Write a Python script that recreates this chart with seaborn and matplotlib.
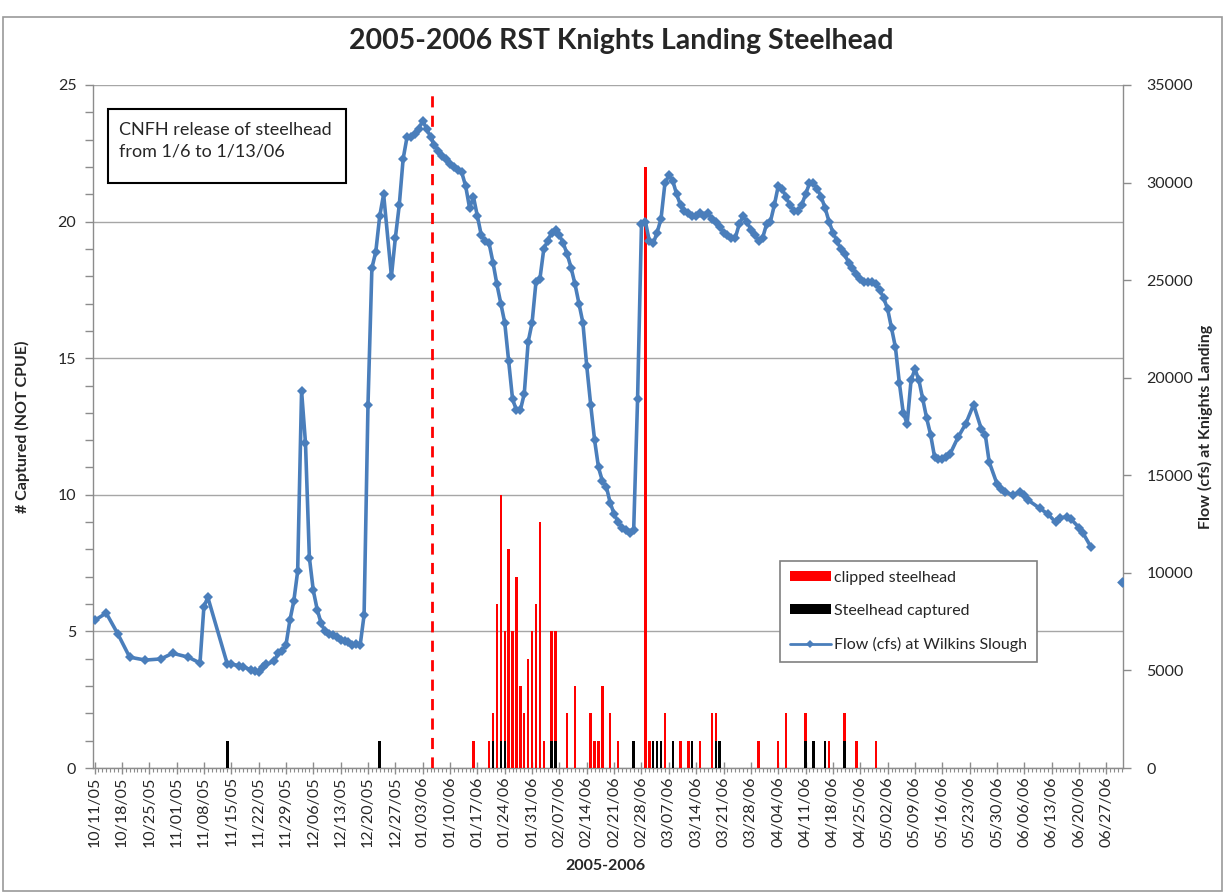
import numpy as np
import pandas as pd
import matplotlib
matplotlib.use("Agg")
import matplotlib.pyplot as plt
import seaborn as sns
from matplotlib.patches import Patch, Rectangle
from matplotlib.lines import Line2D
from matplotlib.ticker import MultipleLocator, FuncFormatter

# ---------------- data ----------------
season_start = pd.Timestamp("2005-10-11")   # day 0

# Flow (cfs) at Wilkins Slough, by day offset from season_start
flow_day = [0, 3, 6, 9, 13, 17, 20, 24, 27, 28, 29, 34, 35, 37, 38, 40, 41, 42, 43, 44,
            46, 47, 48, 49, 50, 51, 52, 53, 54, 55, 56, 57, 58, 59, 60, 61, 62, 63, 64, 65,
            66, 67, 68, 69, 70, 71, 72, 73, 74, 76, 77, 78, 79, 80, 81, 82, 83, 84, 85, 86,
            87, 88, 89, 90, 91, 92, 93, 94, 95, 96, 97, 98, 99, 100, 101, 102, 103, 104, 105, 106,
            107, 108, 109, 110, 111, 112, 113, 114, 115, 116, 117, 118, 119, 120, 121, 122, 123, 124, 125, 126,
            127, 128, 129, 130, 131, 132, 133, 134, 135, 136, 137, 138, 139, 140, 141, 142, 143, 144, 145, 146,
            147, 148, 149, 150, 151, 152, 153, 154, 155, 156, 157, 158, 159, 160, 161, 162, 163, 164, 165, 166,
            167, 168, 169, 170, 171, 172, 173, 174, 175, 176, 177, 178, 179, 180, 181, 182, 183, 184, 185, 186,
            187, 188, 189, 190, 191, 192, 193, 194, 195, 196, 197, 198, 199, 200, 201, 202, 203, 204, 205, 206,
            207, 208, 209, 210, 211, 212, 213, 214, 215, 216, 217, 218, 219, 221, 223, 225, 227, 228, 229, 231,
            232, 233, 235, 237, 238, 239, 242, 244, 246, 247, 249, 250, 252, 253, 255]
flow_cfs = [7560, 7940, 6860, 5680, 5530, 5590, 5880, 5680, 5380, 8260, 8750, 5320, 5320, 5250, 5180, 5040, 4970, 4900, 5180, 5320,
            5460, 5880, 6020, 6300, 7560, 8540, 10080, 19320, 16660, 10780, 9100, 8120, 7420, 7000, 6860, 6790, 6720, 6580, 6510, 6440,
            6300, 6370, 6300, 7840, 18620, 25620, 26460, 28280, 29400, 25200, 27160, 28840, 31220, 32340, 32340, 32480, 32760, 33180, 32760, 32340,
            31920, 31640, 31360, 31220, 30940, 30800, 30660, 30520, 29820, 28700, 29260, 28280, 27300, 27020, 26880, 25900, 24780, 23800, 22820, 20860,
            18900, 18340, 18340, 19180, 21840, 22820, 24920, 25060, 26600, 27020, 27440, 27580, 27300, 26880, 26320, 25620, 24780, 23800, 22820, 20580,
            18620, 16800, 15400, 14700, 14420, 13580, 13020, 12600, 12320, 12180, 12040, 12180, 18900, 27860, 28000, 27020, 26880, 27440, 28140, 29960,
            30380, 30100, 29400, 28840, 28560, 28420, 28280, 28280, 28420, 28280, 28420, 28140, 28000, 27720, 27440, 27300, 27160, 27160, 27860, 28280,
            28000, 27580, 27300, 27020, 27160, 27860, 28000, 28840, 29820, 29680, 29260, 28840, 28560, 28560, 28840, 29400, 29960, 29960, 29680, 29260,
            28700, 28000, 27440, 27020, 26600, 26320, 25900, 25620, 25340, 25060, 24920, 24920, 24920, 24780, 24500, 24080, 23520, 22540, 21560, 19740,
            18200, 17640, 19880, 20440, 19880, 18900, 17920, 17080, 15960, 15820, 15820, 15960, 16100, 16940, 17640, 18620, 17360, 17080, 15680, 14560,
            14280, 14140, 14000, 14140, 14000, 13720, 13300, 13020, 12600, 12810, 12880, 12740, 12320, 12040, 11340]
# isolated reading at the end of the season (not joined to the line)
flow_late_day = [263]
flow_late_cfs = [9520]

# clipped steelhead (red)
clipped_day = [97, 101, 102, 103, 104, 105, 106, 107, 108, 109, 110, 111, 112, 113, 114, 115, 117, 118, 121, 123,
               127, 128, 129, 130, 132, 134, 141, 142, 143, 145, 146, 150, 152, 155, 158, 159, 170, 175, 177, 182,
               188, 192, 195, 200]
clipped_n = [1, 1, 2, 6, 10, 5, 8, 5, 7, 3, 2, 4, 5, 6, 9, 1, 5, 5, 2, 3,
             2, 1, 1, 3, 2, 1, 22, 1, 1, 1, 2, 1, 1, 1, 2, 2, 1, 1, 2, 2,
             1, 2, 1, 1]

# steelhead captured (black)
captured_day = [34, 73, 102, 104, 105, 117, 118, 138, 143, 144, 145, 148, 153, 159, 160, 182, 184, 187, 192]
captured_n = [1, 1, 1, 1, 1, 1, 1, 1, 1, 1, 1, 1, 1, 1, 1, 1, 1, 1, 1]

release_start = pd.Timestamp("2006-01-06")

title = "2005-2006 RST Knights Landing Steelhead"
note = "CNFH release of steelhead\nfrom 1/6 to 1/13/06"
left_label = "# Captured (NOT CPUE)"
right_label = "Flow (cfs) at Knights Landing"
x_label = "2005-2006"
legend_labels = ["clipped steelhead", "Steelhead captured", "Flow (cfs) at Wilkins Slough"]

# ---------------- style ----------------
sns.set_theme(style="white")
plt.rcParams["font.family"] = ["Lato", "DejaVu Sans"]

W, H = 1226, 893
BLUE = "#4a7ebb"
GRID = "#a6a6a6"
AX = "#8c8c8c"
TXT = "#262626"

fig = plt.figure(figsize=(W / 100, H / 100), dpi=100)
fig.patch.set_facecolor("white")

L, R, T, B = 93, 1123, 85, 768
ax = fig.add_axes([L / W, 1 - B / H, (R - L) / W, (B - T) / H])
ax2 = ax.twinx()

# bars
bars_red = pd.DataFrame({"day": clipped_day, "n": clipped_n})
bars_blk = pd.DataFrame({"day": captured_day, "n": captured_n})
sns.barplot(data=bars_red, x="day", y="n", native_scale=True, color="#ff0000",
            saturation=1, width=0.62, errorbar=None, ax=ax, zorder=3)
sns.barplot(data=bars_blk, x="day", y="n", native_scale=True, color="#000000",
            saturation=1, width=0.62, errorbar=None, ax=ax, zorder=4)
for p in ax.patches:
    p.set_linewidth(0)

# release marker (start of 1/6/06)
rel_day = (release_start - season_start).days - 0.5
ax.axvline(rel_day, color="#ff0000", lw=2, ls=(0, (4, 3)), zorder=5, ymax=0.993)

# flow line
flow_df = pd.DataFrame({"day": flow_day, "cfs": flow_cfs})
sns.lineplot(data=flow_df, x="day", y="cfs", ax=ax2, color=BLUE, lw=2.6,
             marker="D", markersize=5, markeredgewidth=0, legend=False, zorder=3)
sns.scatterplot(x=flow_late_day, y=flow_late_cfs, ax=ax2, color=BLUE, marker="D",
                s=30, linewidth=0, legend=False, zorder=3)

# axes limits
x0 = -1.5 / 3.907
ax.set_xlim(x0, x0 + (R - L) / 3.907)
ax2.set_xlim(ax.get_xlim())
ax.set_ylim(0, 25)
ax2.set_ylim(0, 35000)

# x ticks
ax.xaxis.set_major_locator(MultipleLocator(7))
ax.xaxis.set_minor_locator(MultipleLocator(1))
ax.xaxis.set_major_formatter(FuncFormatter(
    lambda v, pos: (season_start + pd.Timedelta(days=int(round(v)))).strftime("%m/%d/%y")))
ax.tick_params(axis="x", which="major", direction="inout", length=8, width=1, color=AX,
               labelrotation=90, labelsize=11.5, labelcolor=TXT, pad=2, bottom=True)
ax.tick_params(axis="x", which="minor", direction="out", length=3, width=0.8, color=AX, bottom=True)
ax.set_xlabel("")

# y ticks
ax.yaxis.set_major_locator(MultipleLocator(5))
ax.yaxis.set_minor_locator(MultipleLocator(1))
ax.tick_params(axis="y", which="major", direction="out", length=6, width=1, color=AX,
               labelsize=11.5, labelcolor=TXT, pad=6, left=True)
ax.tick_params(axis="y", which="minor", direction="out", length=6, width=1, color=AX, left=True)
ax.set_ylabel(left_label, fontsize=11.5, fontweight="bold", color=TXT)
ax.yaxis.set_label_coords((30 - L) / (R - L), 0.5)

ax2.yaxis.set_major_locator(MultipleLocator(5000))
ax2.tick_params(axis="y", which="major", direction="out", length=6, width=1, color=AX,
                labelsize=11.5, labelcolor=TXT, pad=11, right=True)
ax2.set_ylabel(right_label, fontsize=11.5, fontweight="bold", color=TXT)
ax2.yaxis.set_label_coords((1198 - L) / (R - L), 0.5)
ax2.tick_params(axis="x", bottom=False, labelbottom=False, top=False)
ax2.set_xlabel("")

ax.yaxis.grid(True, color=GRID, lw=1)
ax.set_axisbelow(True)
for a in (ax, ax2):
    a.spines["top"].set_visible(False)
    for s in ("left", "right", "bottom"):
        a.spines[s].set_color(AX)
        a.spines[s].set_linewidth(1)
ax.spines["right"].set_visible(False)
ax2.spines["left"].set_visible(False)
ax2.spines["bottom"].set_visible(False)

# legend
handles = [Patch(facecolor="#ff0000", edgecolor="none"),
           Patch(facecolor="#000000", edgecolor="none"),
           Line2D([], [], color=BLUE, lw=2, marker="D", markersize=4, markeredgewidth=0)]
leg = ax2.legend(handles, legend_labels, loc="upper left",
                 bbox_to_anchor=((780 - L) / (R - L), (B - 561) / (B - T)),
                 frameon=True, fancybox=False, framealpha=1, edgecolor="#808080",
                 fontsize=11.5, handlelength=2.6, handleheight=0.55, handletextpad=0.2,
                 labelspacing=1.2, borderpad=0.6, borderaxespad=0)
leg.get_frame().set_linewidth(1.2)
for t in leg.get_texts():
    t.set_color(TXT)

# note box
fig.add_artist(Rectangle((108 / W, 1 - 183 / H), 238 / W, 74 / H, transform=fig.transFigure,
                         facecolor="white", edgecolor="black", lw=1.5, zorder=10))
fig.text(119 / W, 1 - 141 / H, note, fontsize=13, color=TXT, va="center", ha="left",
         linespacing=1.45, zorder=11)

# chart-area border
fig.add_artist(Rectangle((3 / W, 1 - 891 / H), 1219 / W, 874 / H, transform=fig.transFigure,
                         facecolor="none", edgecolor="#9a9a9a", lw=1.2, zorder=0))

# titles
fig.text(621 / W, 1 - 41 / H, title, fontsize=20.5, fontweight="bold", color=TXT,
         ha="center", va="center")
fig.text(605 / W, 1 - 866 / H, x_label, fontsize=11.5, fontweight="bold", color=TXT,
         ha="center", va="center")

fig.savefig("out.png", dpi=100)
